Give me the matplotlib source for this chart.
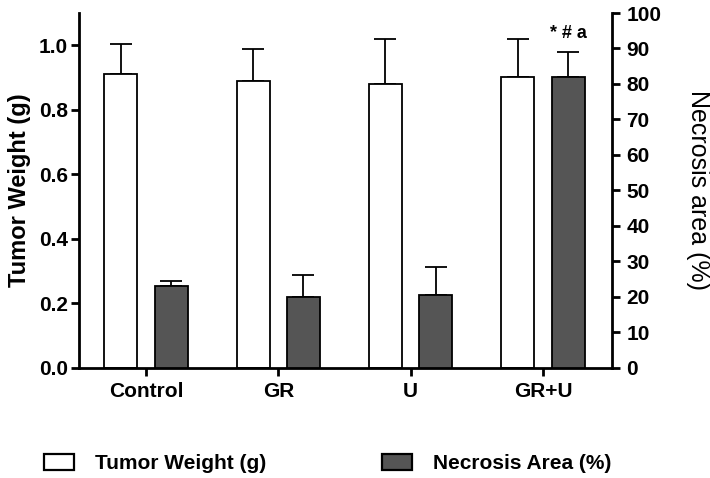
import numpy as np
import matplotlib
matplotlib.use('Agg')
import matplotlib.pyplot as plt
from matplotlib.patches import Patch

plt.rcParams['font.family'] = ['Liberation Sans', 'DejaVu Sans']

# group names and measured values (mean, upper SEM)
groups = ['Control', 'GR', 'U', 'GR+U']
weight = [0.91, 0.89, 0.88, 0.90]
weight_err = [0.095, 0.097, 0.14, 0.12]
necrosis = [23.1, 19.9, 20.5, 81.9]
necrosis_err = [1.4, 6.2, 7.8, 7.1]
sig_label = '* # a'

dark = '#555555'
x = np.arange(len(groups))
w = 0.25
off = 0.19

fig = plt.figure(figsize=(7.1, 4.78), dpi=100)
ax = fig.add_axes([0.1113, 0.2308, 0.7507, 0.742])
ax2 = ax.twinx()

# tumor weight on the left axis
ax.errorbar(x - off, weight, yerr=[np.zeros(len(x)), weight_err], fmt='none',
            ecolor='black', elinewidth=1.3, capsize=8, capthick=1.3, zorder=1)
ax.bar(x - off, weight, width=w, color='white', edgecolor='black',
       linewidth=1.3, zorder=2)

# necrosis area on the right axis
ax2.errorbar(x + off, necrosis, yerr=[np.zeros(len(x)), necrosis_err], fmt='none',
             ecolor='black', elinewidth=1.3, capsize=8, capthick=1.3, zorder=1)
ax2.bar(x + off, necrosis, width=w, color=dark, edgecolor='black',
        linewidth=1.3, zorder=2)
ax2.text(x[-1] + off, necrosis[-1] + necrosis_err[-1] + 2.8, sig_label,
         ha='center', va='bottom', fontsize=13, fontweight='bold')

ax.set_xlim(-0.506, 3.522)
ax.set_ylim(0, 1.1)
ax2.set_ylim(0, 100)

ax.set_xticks(x)
ax.set_xticklabels(groups, fontsize=15, fontweight='bold')
ax.set_yticks(np.arange(0, 1.01, 0.2))
ax.set_yticklabels(['%.1f' % v for v in np.arange(0, 1.01, 0.2)],
                   fontsize=15, fontweight='bold')
ax2.set_yticks(np.arange(0, 101, 10))
ax2.set_yticklabels([str(v) for v in range(0, 101, 10)],
                    fontsize=15, fontweight='bold')

for s in ['top', 'right']:
    ax.spines[s].set_visible(False)
for s in ['top', 'left', 'bottom']:
    ax2.spines[s].set_visible(False)
for s in ['left', 'bottom']:
    ax.spines[s].set_linewidth(2)
ax2.spines['right'].set_linewidth(2)

ax.tick_params(axis='both', direction='out', length=6, width=2, pad=2)
ax.tick_params(axis='x', pad=4)
ax2.tick_params(axis='y', direction='out', length=6, width=2, pad=4.5)

ax.set_ylabel('Tumor Weight (g)', fontsize=17, fontweight='bold')
ax.yaxis.set_label_coords(-0.09, 0.5)
ax2.set_ylabel('Necrosis area (%)', fontsize=18, rotation=-90, va='center')
ax2.yaxis.set_label_coords(1.161, 0.5)

handles = [Patch(facecolor='white', edgecolor='black', linewidth=1.6),
           Patch(facecolor=dark, edgecolor='black', linewidth=1.6)]
fig.legend(handles, ['Tumor Weight (g)', 'Necrosis Area (%)'], ncol=2,
           loc='center left', bbox_to_anchor=(44 / 710, 1 - 463.5 / 478),
           frameon=False, borderpad=0, borderaxespad=0,
           prop={'size': 15, 'weight': 'bold'},
           handlelength=1.44, handleheight=0.79, handletextpad=1.0,
           columnspacing=5.55)

fig.savefig('out.png', dpi=100)
